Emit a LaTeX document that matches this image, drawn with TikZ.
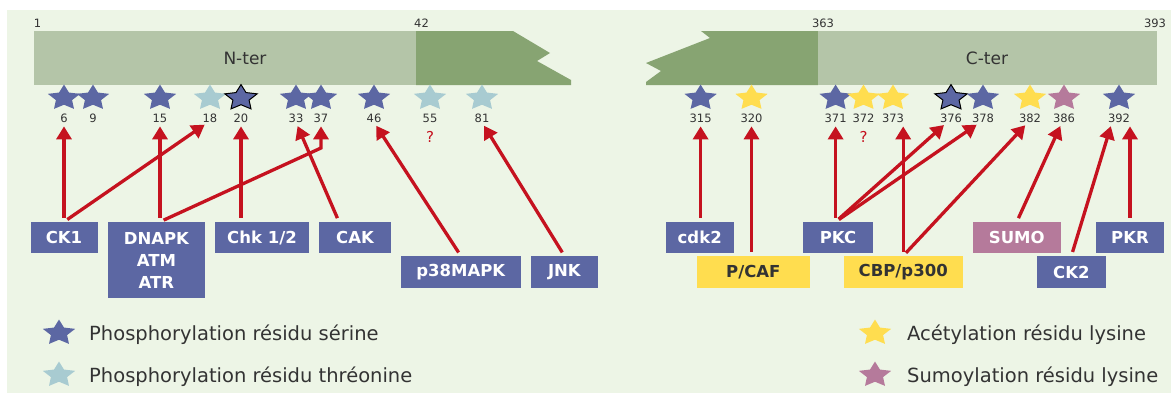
\documentclass[tikz,border=0pt]{standalone}
\usepackage{fontspec}
\setmainfont{DejaVu Sans}
\usetikzlibrary{shapes.geometric,arrows.meta,calc}
\definecolor{bgc}{HTML}{EDF5E6}
\definecolor{barl}{HTML}{B4C5A8}
\definecolor{bard}{HTML}{87A472}
\definecolor{ser}{HTML}{5C67A3}
\definecolor{thr}{HTML}{A8CBD1}
\definecolor{acy}{HTML}{FFDD4F}
\definecolor{sumc}{HTML}{B57A9B}
\definecolor{redc}{HTML}{C5121F}
\definecolor{txt}{HTML}{333333}
\begin{document}
\begin{tikzpicture}[x=1pt,y=-1pt,
  basestar/.style={star, star points=5, star point ratio=2.0, minimum size=34pt, inner sep=0pt, draw=none},
  sstar/.style={basestar, fill=ser},
  tstar/.style={basestar, fill=thr},
  astar/.style={basestar, fill=acy},
  mstar/.style={basestar, fill=sumc},
  ostar/.style={basestar, fill=ser, draw=black, line width=1pt},
  starrow/.style={yscale=0.79, transform shape},
  num/.style={font=\fontsize{11.5}{13}\selectfont, text=txt, inner sep=0pt, anchor=base},
  qm/.style={font=\fontsize{15}{17}\selectfont, text=redc, inner sep=0pt, anchor=base},
  bartxt/.style={font=\fontsize{17}{20}\selectfont, text=txt, inner sep=0pt},
  kbox/.style={fill=ser, text=white, font=\bfseries\fontsize{16.5}{22}\selectfont, minimum height=31pt, inner sep=0pt, align=center},
  ybox/.style={kbox, fill=acy, text=txt},
  mbox/.style={kbox, fill=sumc},
  leg/.style={font=\fontsize{19.5}{22}\selectfont, text=txt, inner sep=0pt, anchor=base west},
  arr/.style={draw=redc, line width=3.3pt, -{Triangle[width=15pt,length=13pt]}, shorten <=4pt, shorten >=4pt}
]
\useasboundingbox (0,0) rectangle (1171,394);
\fill[white] (0,0) rectangle (1171,394);
\fill[bgc] (7,10) rectangle (1171,393);

% bars
\fill[barl] (34,31) rectangle (416,85);
\fill[bard] (416,31) -- (513,31) -- (550,53) -- (537,61) -- (571,80) -- (571,85) -- (416,85) -- cycle;
\fill[bard] (818,31) -- (701,31) -- (710,38) -- (646,63) -- (661,71) -- (646,82) -- (646,85) -- (818,85) -- cycle;
\fill[barl] (818,31) rectangle (1157,85);
\node[bartxt] (nter) at (245,58) {N-ter};
\node[bartxt] (cter) at (987,58) {C-ter};
\node[num] (p1) at (37.5,27) {1};
\node[num] (p42) at (421.5,27) {42};
\node[num] (p363) at (823,27) {363};
\node[num] (p393) at (1155,27) {393};

% stars
\begin{scope}[shift={(0,98)}, starrow]
\node[sstar] (s6) at (64,0) {};
\node[sstar] (s9) at (93,0) {};
\node[sstar] (s15) at (160,0) {};
\node[tstar] (s18) at (210,0) {};
\node[ostar] (s20) at (241,0) {};
\node[sstar] (s33) at (296,0) {};
\node[sstar] (s37) at (321,0) {};
\node[sstar] (s46) at (374,0) {};
\node[tstar] (s55) at (430,0) {};
\node[tstar] (s81) at (482,0) {};
\node[sstar] (s315) at (700.6,0) {};
\node[astar] (s320) at (751.5,0) {};
\node[sstar] (s371) at (835.6,0) {};
\node[astar] (s372) at (863.5,0) {};
\node[astar] (s373) at (893,0) {};
\node[ostar] (s376) at (951,0) {};
\node[sstar] (s378) at (983,0) {};
\node[astar] (s382) at (1030,0) {};
\node[mstar] (s386) at (1064,0) {};
\node[sstar] (s392) at (1119,0) {};
\end{scope}

% numbers
\node[num] (l6) at (64,122) {6};
\node[num] (l9) at (93,122) {9};
\node[num] (l15) at (160,122) {15};
\node[num] (l18) at (210,122) {18};
\node[num] (l20) at (241,122) {20};
\node[num] (l33) at (296,122) {33};
\node[num] (l37) at (321,122) {37};
\node[num] (l46) at (374,122) {46};
\node[num] (l55) at (430,122) {55};
\node[num] (l81) at (482,122) {81};
\node[num] (l315) at (700.6,122) {315};
\node[num] (l320) at (751.5,122) {320};
\node[num] (l371) at (835.6,122) {371};
\node[num] (l372) at (863.5,122) {372};
\node[num] (l373) at (893,122) {373};
\node[num] (l376) at (951,122) {376};
\node[num] (l378) at (983,122) {378};
\node[num] (l382) at (1030,122) {382};
\node[num] (l386) at (1064,122) {386};
\node[num] (l392) at (1119,122) {392};
\node[qm] (q55) at (430,142) {?};
\node[qm] (q372) at (863.5,142) {?};

% boxes
\node[kbox, minimum width=67pt] (ck1) at (64,237.5) {CK1};
\node[kbox, minimum width=96.7pt, minimum height=76pt] (dnapk) at (156.4,260) {DNAPK\\ATM\\ATR};
\node[kbox, minimum width=93.3pt] (chk) at (262,237.5) {Chk 1/2};
\node[kbox, minimum width=72pt] (cak) at (355,237.5) {CAK};
\node[kbox, minimum width=119.5pt, minimum height=32pt] (p38) at (460.8,272) {p38MAPK};
\node[kbox, minimum width=67.2pt, minimum height=32pt] (jnk) at (564.4,272) {JNK};
\node[kbox, minimum width=68pt] (cdk2) at (699.7,237.5) {cdk2};
\node[ybox, minimum width=113pt, minimum height=32pt] (pcaf) at (753.3,272) {P/CAF};
\node[kbox, minimum width=70pt] (pkc) at (838,237.5) {PKC};
\node[ybox, minimum width=118.7pt, minimum height=32pt] (cbp) at (903.2,272) {CBP/p300};
\node[mbox, minimum width=87.6pt] (sumo) at (1016.8,237.5) {SUMO};
\node[kbox, minimum width=68pt] (pkr) at (1130,237.5) {PKR};
\node[kbox, minimum width=68.8pt, minimum height=32pt] (ck2) at (1071.4,272) {CK2};

% connectors
\coordinate (b37) at (321,148);
\draw[arr] (ck1.north) -- ([xshift=-2pt]l18.south);
\draw[arr] (ck1.north) -- (l6.south);
\draw[arr] (l15.south |- dnapk.north) -- (b37) -- (l37.south);
\draw[arr] (l15.south |- dnapk.north) -- (l15.south);
\draw[arr] (l20.south |- chk.north) -- (l20.south);
\draw[arr] ([xshift=-16pt]cak.north) -- (l33.south);
\draw[arr] (p38.north) -- (l46.south);
\draw[arr] (jnk.north) -- (l81.south);
\draw[arr] (l315.south |- cdk2.north) -- (l315.south);
\draw[arr] (l320.south |- pcaf.north) -- (l320.south);
\draw[arr] (l371.south |- pkc.north) -- ([xshift=-4pt]l376.south);
\draw[arr] (l371.south |- pkc.north) -- ([xshift=-3pt]l378.south);
\draw[arr] (l371.south |- pkc.north) -- (l371.south);
\draw[arr] (cbp.north) -- ([xshift=-2pt]l382.south);
\draw[arr] (cbp.north) -- (cbp.north |- l373.south);
\draw[arr] (sumo.north) -- ([xshift=-2pt]l386.south);
\draw[arr] (ck2.north) -- ([xshift=-7pt]l392.south);
\draw[arr] (pkr.north) -- (pkr.north |- l392.south);

% legend
\begin{scope}[shift={(0,333)}, starrow]
\node[sstar] (g1) at (59,0) {};
\node[astar] (g3) at (875,0) {};
\end{scope}
\begin{scope}[shift={(0,375)}, starrow]
\node[tstar] (g2) at (59,0) {};
\node[mstar] (g4) at (875,0) {};
\end{scope}
\node[leg] (gt1) at (89,340) {Phosphorylation résidu sérine};
\node[leg] (gt2) at (89,382) {Phosphorylation résidu thréonine};
\node[leg] (gt3) at (907,340) {Acétylation résidu lysine};
\node[leg] (gt4) at (907,382) {Sumoylation résidu lysine};
\end{tikzpicture}
\end{document}
